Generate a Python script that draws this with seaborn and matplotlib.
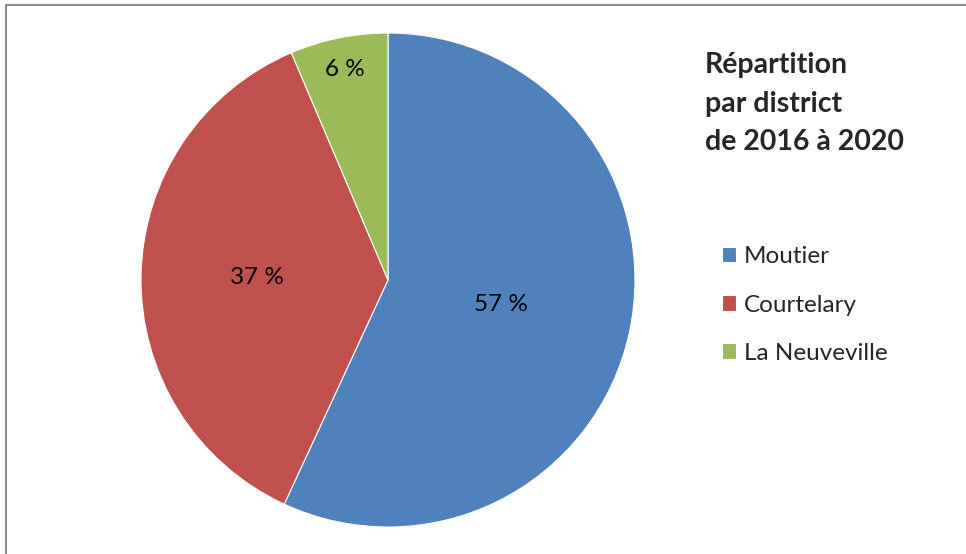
import numpy as np
import matplotlib
matplotlib.use("Agg")
import matplotlib.pyplot as plt
import seaborn as sns
from matplotlib.lines import Line2D

# Daten
districts = ["Moutier", "Courtelary", "La Neuveville"]
shares = [56.9, 36.7, 6.4]
title = "Répartition\npar district\nde 2016 à 2020"

sns.set_style("white")
plt.rcParams['font.family'] = ['Lato', 'DejaVu Sans']

colors = ["#4F81BD", "#C0504D", "#9BBB59"]
label_r = [0.47, 0.53, 0.87]

W, H = 966, 554
fig = plt.figure(figsize=(W / 100, H / 100), dpi=100)

cx, cy, r = 388, 280, 247
ax = fig.add_axes([(cx - r) / W, (H - cy - r) / H, 2 * r / W, 2 * r / H])
wedges, _ = ax.pie(shares, colors=colors, startangle=90, counterclock=False,
                   radius=1, wedgeprops=dict(edgecolor="white", linewidth=0.8))
ax.set_xlim(-1, 1)
ax.set_ylim(-1, 1)
ax.set_aspect("equal")
ax.axis("off")

total = sum(shares)
for w, v, rr in zip(wedges, shares, label_r):
    mid = np.deg2rad((w.theta1 + w.theta2) / 2)
    ax.text(rr * np.cos(mid), rr * np.sin(mid), f"{round(v / total * 100)} %",
            ha="center", va="center", fontsize=17.5, color="black")

fig.text(705 / W, 1 - 52 / H, title, ha="left", va="top", fontsize=20.5,
         fontweight="bold", linespacing=1.6)

fig.legend(wedges, districts, loc="center left",
           bbox_to_anchor=(712 / W, 1 - 305 / H), frameon=False, fontsize=17.5,
           handlelength=0.6, handleheight=0.6, handletextpad=0.3,
           labelspacing=1.12, borderaxespad=0)

# grauer Rahmen links/oben
fig.add_artist(Line2D([6 / W, 6 / W], [0, 1 - 5 / H], transform=fig.transFigure,
                      color="#8c8c8c", lw=1.5))
fig.add_artist(Line2D([6 / W, 1], [1 - 5 / H, 1 - 5 / H], transform=fig.transFigure,
                      color="#8c8c8c", lw=1.5))

fig.savefig("out.png", dpi=100)
